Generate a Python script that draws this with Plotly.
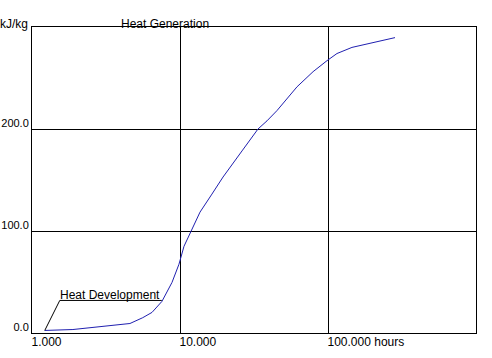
import math
import plotly.graph_objects as go

# Data
hours = [1220, 1890, 4590, 5600, 6470, 7550, 8830, 9840, 10640, 12050, 13650, 16440,
         19530, 26240, 33650, 38710, 45190, 61780, 79270, 98460, 115000,
         145200, 192200, 283600]
heat = [2.5, 3.4, 9.3, 15.0, 20.2, 31.0, 49.6, 67.4, 85.0, 101.8, 118.5, 136.2,
        152.9, 178.5, 200.0, 208.0, 218.0, 241.4, 256.2, 267.0, 274.0,
        280.0, 284.0, 289.6]

x_tick_vals = [1000, 10000, 100000, 1000000]
x_tick_text = ["1.000", "10.000", "100.000 hours", ""]
y_tick_vals = [0, 100, 200, 300]
y_tick_text = ["0.0", "100.0", "200.0", ""]

title_text = "Heat Generation"
unit_text = "kJ/kg"
note_text = "Heat Development"

FONT = "Arial, 'Liberation Sans', sans-serif"

fig = go.Figure(go.Scatter(x=hours, y=heat, mode="lines",
                           line=dict(color="#2020b0", width=1),
                           hoverinfo="skip"))

fig.update_layout(
    width=492, height=358,
    margin=dict(l=32, r=16, t=27, b=25, pad=0, autoexpand=False),
    paper_bgcolor="white", plot_bgcolor="white",
    showlegend=False,
    font=dict(family=FONT, size=12, color="black"),
    xaxis=dict(type="log", range=[3, 6], tickvals=x_tick_vals, ticktext=x_tick_text,
               showgrid=True, gridcolor="black", gridwidth=1, automargin=False,
               showline=True, linecolor="black", linewidth=1, mirror=True,
               ticks="", zeroline=False, ticklabelposition="outside right",
               ticklabelstandoff=-2, ticklabelshift=-1,
               tickfont=dict(family=FONT, size=12, color="black")),
    yaxis=dict(range=[0, 300], tickvals=y_tick_vals, ticktext=y_tick_text,
               showgrid=True, gridcolor="black", gridwidth=1, automargin=False,
               showline=True, linecolor="black", linewidth=1, mirror=True,
               ticks="", zeroline=False, ticklabelposition="outside top",
               ticklabelshift=2,
               tickfont=dict(family=FONT, size=11, color="black")),
)

# leader line and underline for the "Heat Development" note
fig.add_shape(type="path", xref="x", yref="y", xsizemode="pixel", ysizemode="pixel",
              xanchor=hours[0], yanchor=heat[0],
              path="M0,0 L15,30 L117,30", line=dict(color="black", width=1))

fig.add_annotation(x=math.log10(hours[0]), y=heat[0], xref="x", yref="y",
                   xshift=13, yshift=26, xanchor="left", yanchor="bottom",
                   text=note_text, showarrow=False, font=dict(size=12, color="black"))

fig.add_annotation(x=(120.7 - 32) / 444, y=1, xref="paper", yref="paper",
                   xanchor="left", yanchor="bottom", yshift=-6, xshift=-2,
                   text=title_text, showarrow=False, font=dict(size=12, color="black"))

fig.add_annotation(x=0, y=1, xref="paper", yref="paper", xshift=-2,
                   xanchor="right", yanchor="bottom", yshift=-6,
                   text=unit_text, showarrow=False, font=dict(size=12, color="black"))

fig.write_html("out.html", post_script="document.body.style.margin='0';",
               config={"displayModeBar": False})
